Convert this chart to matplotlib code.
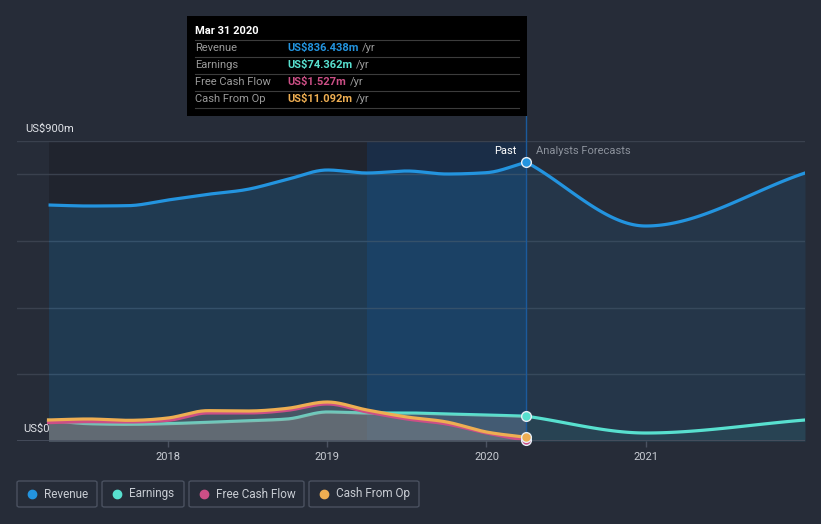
import numpy as np
import matplotlib
matplotlib.use("Agg")
import matplotlib.pyplot as plt
from matplotlib.patches import Rectangle, FancyBboxPatch
from matplotlib.lines import Line2D

plt.rcParams['font.family'] = ['Roboto', 'DejaVu Sans']

# quarterly history (years, values in US$m)
past_t = [2017.25, 2017.5, 2017.75, 2018.0, 2018.25, 2018.5, 2018.75,
          2019.0, 2019.25, 2019.5, 2019.75, 2020.0, 2020.25]
revenue = [708, 705, 706, 723, 740, 755, 785, 813, 804, 810, 801, 805, 836.438]
earnings = [62, 52, 50, 52, 56, 61, 66, 87, 84, 84, 81, 78, 74.362]
free_cash_flow = [55, 58, 57, 62, 84, 84, 92, 111, 87, 66, 51, 24, 1.527]
cash_from_op = [63, 66, 62, 69, 91, 90, 98, 117, 93, 72, 57, 27, 11.092]

# analyst forecasts
fc_t = [2020.25, 2021.0, 2022.0]
revenue_fc = [836.438, 645, 804]
earnings_fc = [74.362, 24, 63]

year_ticks = [2018, 2019, 2020, 2021]
year_labels = ["2018", "2019", "2020", "2021"]

BG = '#262c38'
C_REV = '#2394df'
C_EARN = '#58e0cf'
C_FCF = '#cc4f86'
C_CFO = '#eeae52'


def smooth(x, y, n=30):
    # monotone cubic (like d3 curveMonotoneX), only for drawing
    x = np.asarray(x, float)
    y = np.asarray(y, float)
    h = np.diff(x)
    d = np.diff(y) / h
    m = np.zeros_like(y)
    m[0], m[-1] = d[0], d[-1]
    for i in range(1, len(y) - 1):
        if d[i - 1] * d[i] <= 0:
            m[i] = 0
        else:
            p = (d[i - 1] * h[i] + d[i] * h[i - 1]) / (h[i - 1] + h[i])
            m[i] = np.sign(d[i]) * min(abs(d[i - 1]), abs(d[i]), 0.5 * abs(p)) * 2
    xs, ys = [], []
    for i in range(len(h)):
        t = np.linspace(0, 1, n, endpoint=(i == len(h) - 1))
        h00 = 2 * t**3 - 3 * t**2 + 1
        h10 = t**3 - 2 * t**2 + t
        h01 = -2 * t**3 + 3 * t**2
        h11 = t**3 - t**2
        xs.append(x[i] + t * h[i])
        ys.append(h00 * y[i] + h10 * h[i] * m[i] + h01 * y[i + 1] + h11 * h[i] * m[i + 1])
    return np.concatenate(xs), np.concatenate(ys)


W, H = 821, 524
fig = plt.figure(figsize=(W / 100, H / 100), dpi=100, facecolor=BG)
ax = fig.add_axes([17 / W, 1 - 441 / H, (805 - 17) / W, 300 / H])
ax.set_facecolor(BG)
ax.set_xlim(2017.052, 2022.0)
ax.set_ylim(0, 900)
for s in ax.spines.values():
    s.set_visible(False)

# gridlines
for g in [200, 400, 600, 800, 900]:
    ax.axhline(g, color='#3a414e', lw=1, zorder=1)
ax.axhline(0, color='#4a5160', lw=1.2, zorder=6)

# background bands
ax.axvspan(past_t[0], 2019.25, color='#1c2028', alpha=0.6, lw=0, zorder=0.5)
ax.axvspan(2019.25, past_t[-1], color='#0a2f5e', alpha=0.42, lw=0, zorder=0.5)

rx, ry = smooth(past_t, revenue)
ex, ey = smooth(past_t, earnings)
fx, fy = smooth(past_t, free_cash_flow)
cx, cy = smooth(past_t, cash_from_op)
rfx, rfy = smooth(fc_t, revenue_fc, 60)
efx, efy = smooth(fc_t, earnings_fc, 60)

ax.fill_between(rx, ry, 0, color=C_REV, alpha=0.2, lw=0, zorder=2)
ax.fill_between(rfx, rfy, 0, color=C_REV, alpha=0.1, lw=0, zorder=2)
ax.fill_between(efx, efy, 0, color=C_EARN, alpha=0.08, lw=0, zorder=2)

ax.plot(rx, ry, color=C_REV, lw=2.3, zorder=5, solid_capstyle='butt')
ax.plot(rfx, rfy, color=C_REV, lw=2.3, zorder=5)
ax.plot(ex, ey, color=C_EARN, lw=2.3, zorder=3)
ax.plot(efx, efy, color=C_EARN, lw=2.3, zorder=5)

ax.fill_between(ex, ey, 0, color='#a09a94', alpha=0.3, lw=0, zorder=3.5)
ax.fill_between(cx, cy, 0, color='#a09a94', alpha=0.3, lw=0, zorder=3.5)
ax.plot(fx, fy, color=C_FCF, lw=2.3, zorder=4)
ax.plot(cx, cy, color=C_CFO, lw=2.3, zorder=4.2)

# now line
ax.axvline(past_t[-1], ymin=0, ymax=(441 - 116) / 300, color='#1b5a9c', lw=1,
           clip_on=False, zorder=4.5)

for vals, col in [(revenue, C_REV), (earnings, C_EARN),
                  (free_cash_flow, C_FCF), (cash_from_op, C_CFO)]:
    ax.plot(past_t[-1], vals[-1], 'o', ms=7, color=col, mec='#e6eef5', mew=1,
            zorder=7, clip_on=False)

ax.set_xticks(year_ticks)
ax.set_xticklabels(year_labels)
ax.set_yticks([])
ax.tick_params(axis='x', colors='#4a5160', length=4, width=1, labelcolor='#c8ccd3',
               labelsize=8, pad=4)

fig.text(25 / W, 1 - 129 / H, "US$900m", color='#e0e3e8', fontsize=8,
         va='center', ha='left')
fig.text(23 / W, 1 - 429 / H, "US$0", color='#e0e3e8', fontsize=8, va='center', ha='left')
ax.text(2020.19, 870, "Past", color='#ffffff', fontsize=8, ha='right', va='center', zorder=8)
ax.text(2020.31, 870, "Analysts Forecasts", color='#8c929c', fontsize=8,
        ha='left', va='center', zorder=8)

# tooltip
fig.patches.append(Rectangle((187 / W, 1 - 116 / H), 340 / W, 100 / H,
                             transform=fig.transFigure, facecolor='#000000',
                             edgecolor='none', zorder=10))
fig.text(195 / W, 1 - 31 / H, "Mar 31 2020", color='white', fontsize=8,
         fontweight='bold', va='center', zorder=11)
rows = [("Revenue", "US$836.438m", C_REV), ("Earnings", "US$74.362m", C_EARN),
        ("Free Cash Flow", "US$1.527m", C_FCF), ("Cash From Op", "US$11.092m", C_CFO)]
for i, (lab, val, col) in enumerate(rows):
    yy = 1 - (48 + 17 * i) / H
    ly = 1 - (40 + 17 * i) / H
    fig.add_artist(Line2D([195 / W, 519 / W], [ly, ly], color='#3c3c3c', lw=0.8,
                          transform=fig.transFigure, zorder=11))
    fig.text(195 / W, yy, lab, color='#9a9a9a', fontsize=8, va='center', zorder=11)
    t = fig.text(287 / W, yy, val, color=col, fontsize=8, fontweight='bold',
                 va='center', zorder=11)
    fig.canvas.draw()
    bb = t.get_window_extent()
    fig.text(bb.x1 / W + 4 / W, yy, "/yr", color='#9a9a9a', fontsize=8,
             va='center', zorder=11)
fig.add_artist(Line2D([195 / W, 519 / W], [1 - 108 / H, 1 - 108 / H], color='#3c3c3c',
                      lw=0.8, transform=fig.transFigure, zorder=11))

# legend
legend = [("Revenue", C_REV, 17, 97), ("Earnings", C_EARN, 102, 184),
          ("Free Cash Flow", C_FCF, 189, 304), ("Cash From Op", C_CFO, 309, 419)]
for lab, col, x0, x1 in legend:
    fig.patches.append(FancyBboxPatch((x0 / W, 1 - 507 / H), (x1 - x0) / W, 26 / H,
                                      boxstyle="round,pad=0,rounding_size=0.003",
                                      transform=fig.transFigure, facecolor='none',
                                      edgecolor='#4a5160', lw=1))
    fig.add_artist(Line2D([(x0 + 15) / W], [1 - 494 / H], marker='o', ms=6,
                          color=col, transform=fig.transFigure))
    fig.text((x0 + 27) / W, 1 - 494 / H, lab, color='#c8ccd3', fontsize=8.5, va='center')

fig.savefig("out.png", dpi=100, facecolor=BG)
